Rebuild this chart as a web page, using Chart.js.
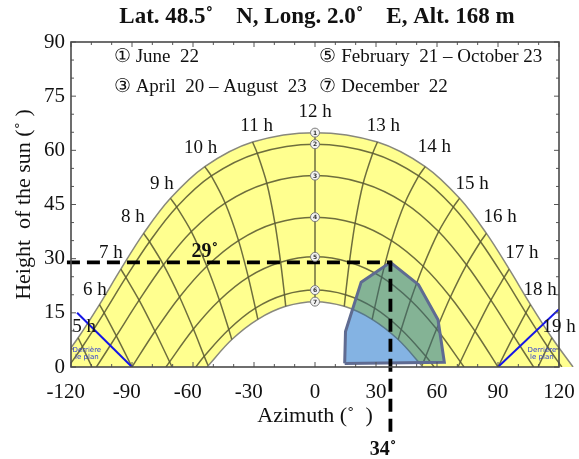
<!DOCTYPE html>
<html><head><meta charset="utf-8">
<script src="https://cdn.jsdelivr.net/npm/chart.js@4/dist/chart.umd.min.js"></script>
<style>html,body{margin:0;padding:0;background:#fff}canvas{display:block}</style>
</head><body>
<canvas id="c" width="579" height="459"></canvas>
<script>
const SERIF = '"Liberation Serif","Times New Roman",serif';

// ---- sun path date curves [azimuth, altitude] ----
const june22 = [[-126.9,0],[-116.5,8.1],[-106.0,17.3],[-95.5,27.1],[-84.3,37.0],[-71.1,46.7],[-54.2,55.5],[-30.7,62.3],[0,64.9],[30.7,62.3],[54.2,55.5],[71.1,46.7],[84.3,37.0],[95.5,27.1],[106.0,17.3],[116.5,8.1],[126.9,0]];
const may21 = [[-121.4,0],[-114.4,5.6],[-103.7,15.0],[-93.0,24.8],[-81.4,34.7],[-68.0,44.3],[-51.0,52.9],[-28.4,59.2],[0,61.7],[28.4,59.2],[51.0,52.9],[68.0,44.3],[81.4,34.7],[93.0,24.8],[103.7,15.0],[114.4,5.6],[121.4,0]];
const apr20 = [[-107.5,0],[-97.7,8.6],[-86.5,18.5],[-74.5,28.3],[-60.8,37.5],[-44.2,45.4],[-23.7,50.9],[0,53.0],[23.7,50.9],[44.2,45.4],[60.8,37.5],[74.5,28.3],[86.5,18.5],[97.7,8.6],[107.5,0]];
const mar20 = [[-90,0],[-78.7,9.9],[-66.6,19.4],[-53.2,27.9],[-37.6,35.0],[-19.7,39.8],[0,41.5],[19.7,39.8],[37.6,35.0],[53.2,27.9],[66.6,19.4],[78.7,9.9],[90,0]];
const feb21 = [[-73.3,0],[-59.8,10.5],[-47.0,18.5],[-32.8,24.9],[-16.9,29.0],[0,30.5],[16.9,29.0],[32.8,24.9],[47.0,18.5],[59.8,10.5],[73.3,0]];
const jan21 = [[-58.6,0],[-54.5,3.0],[-42.4,10.4],[-29.3,16.3],[-15.0,20.0],[0,21.3],[15.0,20.0],[29.3,16.3],[42.4,10.4],[54.5,3.0],[58.6,0]];
const dec22 = [[-53.1,0],[-40.9,7.6],[-28.1,13.2],[-14.4,16.8],[0,18.1],[14.4,16.8],[28.1,13.2],[40.9,7.6],[53.1,0]];

// ---- hour lines ----
const h5  = [[-116.5,8.1],[-114.4,5.6],[-109.7,0]];
const h6  = [[-106.0,17.3],[-103.7,15.0],[-97.7,8.6],[-90,0]];
const h7  = [[-95.5,27.1],[-93.0,24.8],[-86.5,18.5],[-78.7,9.9],[-70.3,0]];
const h8  = [[-84.3,37.0],[-81.4,34.7],[-74.5,28.3],[-66.6,19.4],[-59.8,10.5],[-54.5,3.0],[-52.6,0.4]];
const h9  = [[-71.1,46.7],[-68.0,44.3],[-60.8,37.5],[-53.2,27.9],[-47.0,18.5],[-42.4,10.4],[-40.9,7.6]];
const h10 = [[-54.2,55.5],[-51.0,52.9],[-44.2,45.4],[-37.6,35.0],[-32.8,24.9],[-29.3,16.3],[-28.1,13.2]];
const h11 = [[-30.7,62.3],[-28.4,59.2],[-23.7,50.9],[-19.7,39.8],[-16.9,29.0],[-15.0,20.0],[-14.4,16.8]];
const h12 = [[0,64.9],[0,61.7],[0,53.0],[0,41.5],[0,30.5],[0,21.3],[0,18.1]];
const h13 = [[30.7,62.3],[28.4,59.2],[23.7,50.9],[19.7,39.8],[16.9,29.0],[15.0,20.0],[14.4,16.8]];
const h14 = [[54.2,55.5],[51.0,52.9],[44.2,45.4],[37.6,35.0],[32.8,24.9],[29.3,16.3],[28.1,13.2]];
const h15 = [[71.1,46.7],[68.0,44.3],[60.8,37.5],[53.2,27.9],[47.0,18.5],[42.4,10.4],[40.9,7.6]];
const h16 = [[84.3,37.0],[81.4,34.7],[74.5,28.3],[66.6,19.4],[59.8,10.5],[54.5,3.0],[52.6,0.4]];
const h17 = [[95.5,27.1],[93.0,24.8],[86.5,18.5],[78.7,9.9],[70.3,0]];
const h18 = [[106.0,17.3],[103.7,15.0],[97.7,8.6],[90,0]];
const h19 = [[116.5,8.1],[114.4,5.6],[109.7,0]];

// ---- obstacle mask, limits, markers ----
const obstacle = [[14.6,1.0],[15.0,9.8],[22.7,23.5],[37.1,29.0],[50.9,22.8],[60.5,13.1],[63.6,1.3],[14.6,1.0]];
const dashGuide = [[-122,29],[37.1,29],[37.1,-19]];
const planLeft = [[-90,0],[-117,15]];
const planRight = [[90,0],[120,16]];
const noonPts = [[0,64.9],[0,61.7],[0,53.0],[0,41.5],[0,30.5],[0,21.3],[0,18.1]];
const noonText = ['1','2','3','4','5','6','7'];

// ---- tick and label texts ----
const xTicks = [-120,-90,-60,-30,0,30,60,90,120];
const yTicks = [0,15,30,45,60,75,90];
const titleText = 'Lat. 48.5\u02DA    N, Long. 2.0\u02DA    E, Alt. 168 m';
const hourText = ['5 h','6 h','7 h','8 h','9 h','10 h','11 h','12 h','13 h','14 h','15 h','16 h','17 h','18 h','19 h'];
const hourAz  = [-113.6,-108.2,-100.4,-89.6,-75.3,-56.2,-28.7,0,33.6,58.7,77.3,91.0,101.8,110.7,120.0];
const hourAlt = [11.1,21.4,31.7,41.4,50.8,60.6,66.7,70.6,66.7,60.8,50.8,41.4,31.7,21.4,11.1];
const legendText = ['\u2460 June  22','\u2464 February  21 \u2013 October 23','\u2462 April  20 \u2013 August  23','\u2466 December  22'];
const legendAz = [-98.9,2.2,-98.9,2.2];
const legendAlt = [85.8,85.8,77.5,77.5];

const GRID = 'rgba(90,90,50,0.88)';
const EDGE = 'rgba(130,130,120,0.95)';
const toXY = a => a.map(p => ({x: p[0], y: p[1]}));
const line = (data, o) => Object.assign({data: toXY(data), pointRadius: 0, fill: false, tension: 0.35,
  borderWidth: 1.5, borderColor: GRID}, o);
const wide = {left: 0, top: 0, right: 15, bottom: 0};

const datasets = [
  line(noonPts, {order: 0, showLine: false, pointRadius: 4.5, pointBackgroundColor: '#f2f2f2',
    pointBorderColor: '#7a7a7a', pointBorderWidth: 1}),
  line(dashGuide, {order: 1, tension: 0, borderColor: '#000', borderWidth: 3.8, borderDash: [13, 7], clip: false}),
  line(obstacle, {order: 2, tension: 0, borderColor: '#5f6b91', borderWidth: 3, borderJoinStyle: 'miter',
    _fillColor: 'rgb(132,180,254)', _multiply: true, _overColor: 'rgba(132,178,167,0.3)'}),
  line(planLeft, {order: 3, tension: 0, borderColor: '#1515e6', borderWidth: 2}),
  line(planRight, {order: 3, tension: 0, borderColor: '#1515e6', borderWidth: 2}),
];
[h5,h6,h7,h8,h9,h10,h11,h12,h13,h14,h15,h16,h17,h18,h19].forEach(h => datasets.push(line(h, {order: 4, tension: 0.3})));
[may21, apr20, mar20, feb21, jan21].forEach(d => datasets.push(line(d, {order: 5, clip: wide})));
datasets.push(line(dec22, {order: 6, borderColor: EDGE, _fillColor: '#ffffff'}));
datasets.push(line(june22, {order: 7, borderColor: EDGE, borderWidth: 1.5, clip: wide, _fillColor: '#ffff8f', _fillRight: 15}));

const annot = {
  id: 'annot',
  beforeDatasetDraw(chart, args) {
    const ds = chart.data.datasets[args.index];
    if (!ds._fillColor) return;
    const ctx = chart.ctx, a = chart.chartArea;
    ctx.save();
    ctx.beginPath();
    ctx.rect(a.left, a.top, a.right - a.left + (ds._fillRight || 0), a.bottom - a.top);
    ctx.clip();
    ctx.beginPath();
    args.meta.dataset.path(ctx);
    ctx.closePath();
    if (ds._multiply) ctx.globalCompositeOperation = 'multiply';
    ctx.fillStyle = ds._fillColor;
    ctx.fill();
    if (ds._overColor) {
      ctx.globalCompositeOperation = 'source-over';
      ctx.fillStyle = ds._overColor;
      ctx.fill();
    }
    ctx.restore();
  },
  afterDatasetsDraw(chart) {
    const {ctx, chartArea: a, scales: {x, y}} = chart;
    ctx.save();
    // frame with inner ticks
    ctx.strokeStyle = '#555'; ctx.lineWidth = 1;
    const seg = (x1, y1, x2, y2) => { ctx.beginPath(); ctx.moveTo(x1, y1); ctx.lineTo(x2, y2); ctx.stroke(); };
    for (let v = xTicks[0]; v <= xTicks[xTicks.length - 1]; v += 10) {
      const px = x.getPixelForValue(v), L = xTicks.includes(v) ? 5 : 3;
      seg(px, a.bottom, px, a.bottom - L); seg(px, a.top, px, a.top + L);
    }
    for (let v = yTicks[0]; v <= yTicks[yTicks.length - 1]; v += 5) {
      const py = y.getPixelForValue(v), L = yTicks.includes(v) ? 5 : 3;
      seg(a.left, py, a.left + L, py); seg(a.right, py, a.right - L, py);
    }
    ctx.strokeStyle = '#4a4a4a'; ctx.lineWidth = 1.6;
    ctx.strokeRect(a.left, a.top, a.right - a.left, a.bottom - a.top);

    ctx.fillStyle = '#111';
    ctx.textBaseline = 'middle';
    // title
    ctx.textAlign = 'center';
    ctx.font = 'bold 23px ' + SERIF;
    ctx.fillText(titleText, x.getPixelForValue(1), 17);
    // hour labels
    ctx.font = '19px ' + SERIF;
    hourText.forEach((t, i) => ctx.fillText(t, x.getPixelForValue(hourAz[i]), y.getPixelForValue(hourAlt[i])));
    // legend
    ctx.textAlign = 'left';
    ctx.font = '19px ' + SERIF;
    legendText.forEach((t, i) => ctx.fillText(t, x.getPixelForValue(legendAz[i]), y.getPixelForValue(legendAlt[i])));
    // guide values
    ctx.textAlign = 'center';
    ctx.font = 'bold 20px ' + SERIF;
    ctx.fillText('29\u02DA', x.getPixelForValue(-54.2), y.getPixelForValue(31.9));
    ctx.fillText('34\u02DA', x.getPixelForValue(33.5), y.getPixelForValue(-22.8));
    // plane notes
    ctx.fillStyle = '#3340d0';
    ctx.font = '7px "DejaVu Sans",sans-serif';
    [-112.2, 111.6].forEach(az => {
      ctx.fillText('Derri\u00E8re', x.getPixelForValue(az), y.getPixelForValue(4.6));
      ctx.fillText('le plan', x.getPixelForValue(az), y.getPixelForValue(2.6));
    });
    // noon numbers
    ctx.fillStyle = '#333';
    ctx.font = 'bold 6px "DejaVu Sans",sans-serif';
    noonPts.forEach((p, i) => ctx.fillText(noonText[i], x.getPixelForValue(p[0]), y.getPixelForValue(p[1]) + 0.5));
    ctx.restore();
  }
};

Chart.defaults.font.family = SERIF;
Chart.defaults.color = '#111';

new Chart(document.getElementById('c'), {
  type: 'line',
  data: {datasets},
  plugins: [annot],
  options: {
    responsive: false,
    animation: false,
    devicePixelRatio: 1,
    events: [],
    layout: {padding: {left: 0, right: 20, top: 42, bottom: 0}},
    plugins: {
      legend: {display: false},
      tooltip: {enabled: false},
      title: {display: false}
    },
    scales: {
      x: {
        type: 'linear', min: xTicks[0], max: xTicks[xTicks.length - 1],
        afterBuildTicks(s) { s.ticks = xTicks.map(v => ({value: v})); },
        ticks: {font: {size: 21}, color: '#111', padding: 13, maxRotation: 0, autoSkip: false,
          callback: v => v < 0 ? String(v) + '\u2002' : String(v)},
        grid: {display: false, drawTicks: false}, border: {display: false},
        title: {display: true, text: 'Azimuth (\u02DA  )', font: {size: 22}, color: '#111', padding: {top: 0, bottom: 30}},
        afterFit(s) { s.height = 92; s.paddingLeft = 0; s.paddingRight = 0; }
      },
      y: {
        min: yTicks[0], max: yTicks[yTicks.length - 1],
        afterBuildTicks(s) { s.ticks = yTicks.map(v => ({value: v})); },
        ticks: {font: {size: 21}, color: '#111', padding: 6},
        grid: {display: false, drawTicks: false}, border: {display: false},
        title: {display: true, text: 'Height  of the sun (\u02DA )', font: {size: 22}, color: '#111', padding: {top: 10.8, bottom: 0}},
        afterFit(s) { s.width = 71; s.paddingTop = 0; s.paddingBottom = 0; }
      }
    }
  }
});
</script>
</body></html>
